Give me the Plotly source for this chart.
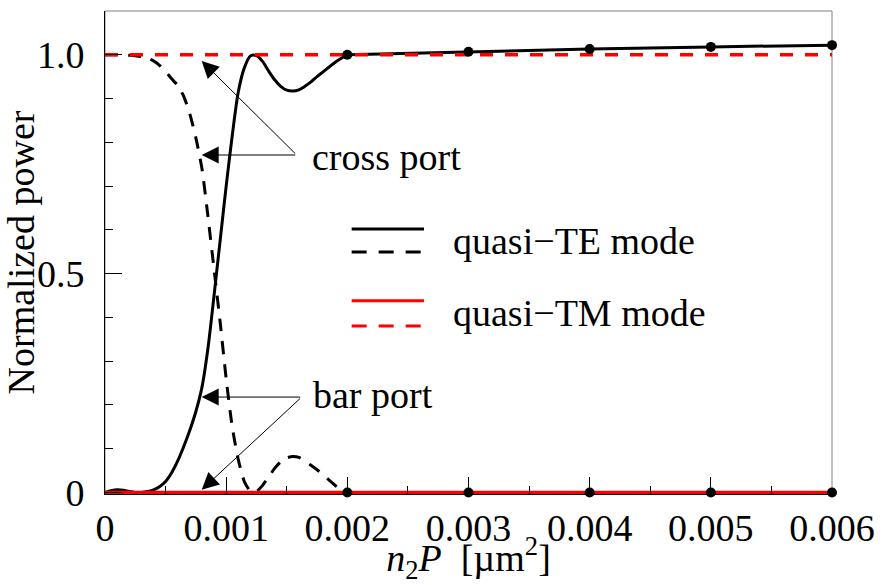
import plotly.graph_objects as go

# ---------------- data ----------------
x_fine = [0.0, 0.00005, 0.0001, 0.00015, 0.0002, 0.00025, 0.0003, 0.00035, 0.0004, 0.00045,
          0.0005, 0.00055, 0.0006, 0.00065, 0.0007, 0.00075, 0.0008, 0.00085, 0.0009, 0.00095,
          0.001, 0.00105, 0.0011, 0.00115, 0.0012, 0.00125, 0.0013, 0.00135, 0.0014, 0.00145,
          0.0015, 0.00155, 0.0016, 0.00165, 0.0017, 0.00175, 0.0018, 0.00185, 0.0019, 0.00195,
          0.002]
te_cross_fine = [0.0, 0.004, 0.006, 0.005, 0.002, 0.0, 0.0, 0.002, 0.006, 0.013,
                 0.025, 0.045, 0.072, 0.105, 0.142, 0.185, 0.24, 0.33, 0.45, 0.575,
                 0.70, 0.815, 0.915, 0.97, 0.997, 0.998, 0.985, 0.963, 0.943, 0.928,
                 0.919, 0.917, 0.92, 0.928, 0.938, 0.95, 0.961, 0.972, 0.983, 0.992,
                 1.0]
te_bar_fine = [1.0, 1.0, 1.0, 1.0, 0.999, 0.998, 0.996, 0.992, 0.986, 0.976,
               0.962, 0.945, 0.93, 0.905, 0.865, 0.81, 0.74, 0.63, 0.51, 0.39,
               0.26, 0.15, 0.075, 0.025, 0.003, 0.002, 0.016, 0.035, 0.055, 0.07,
               0.079, 0.082, 0.08, 0.072, 0.062, 0.052, 0.04, 0.028, 0.016, 0.007,
               0.0]

x_pts = [0.002, 0.003, 0.004, 0.005, 0.006]
te_cross_pts = [1.0, 1.007, 1.013, 1.018, 1.022]
te_bar_pts = [0.0, 0.0, 0.0, 0.0, 0.0]

x_tm = [0.0, 0.001, 0.002, 0.003, 0.004, 0.005, 0.006]
tm_cross = [0.0, 0.0, 0.0, 0.0, 0.0, 0.0, 0.0]
tm_bar = [1.0, 1.0, 1.0, 1.0, 1.0, 1.0, 1.0]

x_tickvals = [0, 0.001, 0.002, 0.003, 0.004, 0.005, 0.006]
x_ticktext = ["0", "0.001", "0.002", "0.003", "0.004", "0.005", "0.006"]
y_tickvals = [0, 0.5, 1.0]
y_ticktext = ["0", "0.5", "1.0"]

FONT = "Liberation Serif"
FS = 38

fig = go.Figure()

# TE cross port (solid black), TE bar port (dashed black)
fig.add_trace(go.Scatter(x=x_fine, y=te_cross_fine, mode="lines",
                         line=dict(color="black", width=3, shape="spline", smoothing=0.8),
                         showlegend=False))
fig.add_trace(go.Scatter(x=x_pts, y=te_cross_pts, mode="lines",
                         line=dict(color="black", width=3), showlegend=False))
fig.add_trace(go.Scatter(x=x_fine + x_pts[1:], y=te_bar_fine + te_bar_pts[1:], mode="lines",
                         line=dict(color="black", width=3, dash="13px,10px", shape="spline",
                                   smoothing=0.6), showlegend=False))
# TM cross port (solid red), TM bar port (dashed red)
fig.add_trace(go.Scatter(x=x_tm, y=tm_cross, mode="lines",
                         line=dict(color="red", width=3.5), showlegend=False))
fig.add_trace(go.Scatter(x=x_tm, y=tm_bar, mode="lines",
                         line=dict(color="red", width=3.5, dash="13px,12px"), showlegend=False))
# markers
fig.add_trace(go.Scatter(x=x_pts, y=te_cross_pts, mode="markers",
                         marker=dict(color="black", size=10), cliponaxis=False, showlegend=False))
fig.add_trace(go.Scatter(x=x_pts, y=te_bar_pts, mode="markers",
                         marker=dict(color="black", size=10), cliponaxis=False, showlegend=False))

# gray frame
fig.add_shape(type="rect", xref="paper", yref="paper", x0=0, x1=1, y0=0, y1=1,
              line=dict(color="#808080", width=1), layer="below")

# legend samples
leg_x0, leg_x1 = 0.3393, 0.4388
fig.add_shape(type="line", xref="paper", yref="paper", x0=leg_x0, x1=leg_x1, y0=0.5487, y1=0.5487,
              line=dict(color="black", width=3))
fig.add_shape(type="line", xref="paper", yref="paper", x0=leg_x0, x1=leg_x1, y0=0.501, y1=0.501,
              line=dict(color="black", width=3, dash="15px,12px"))
fig.add_shape(type="line", xref="paper", yref="paper", x0=leg_x0, x1=leg_x1, y0=0.4002, y1=0.4002,
              line=dict(color="red", width=3))
fig.add_shape(type="line", xref="paper", yref="paper", x0=leg_x0, x1=leg_x1, y0=0.3478, y1=0.3478,
              line=dict(color="red", width=3, dash="15px,12px"))

annos = [
    dict(text="quasi\u2212TE mode", x=0.476, y=0.524),
    dict(text="quasi\u2212TM mode", x=0.476, y=0.375),
    dict(text="cross port", x=0.282, y=0.698),
    dict(text="bar port", x=0.2834, y=0.205),
]
for a in annos:
    fig.add_annotation(text=a["text"], x=a["x"], y=a["y"], xref="paper", yref="paper",
                       xanchor="left", yanchor="middle", showarrow=False,
                       font=dict(family=FONT, size=FS, color="black"))

# arrows (tip, tail) in data coordinates
arrows = [
    ((0.000798, 0.986), (0.001582, 0.771)),
    ((0.000798, 0.771), (0.001582, 0.771)),
    ((0.000798, 0.218), (0.001623, 0.218)),
    ((0.000798, 0.006), (0.001623, 0.218)),
]
for (tx, ty), (sx, sy) in arrows:
    fig.add_annotation(text="", x=tx, y=ty, ax=sx, ay=sy, xref="x", yref="y", axref="x", ayref="y",
                       showarrow=True, arrowhead=2, arrowsize=3.4, arrowwidth=1,
                       arrowcolor="black", standoff=0, startstandoff=0)

fig.update_layout(
    width=883, height=585,
    margin=dict(l=105, r=51, t=11, b=91),
    paper_bgcolor="white", plot_bgcolor="white",
    font=dict(family=FONT, size=FS, color="black"),
    showlegend=False,
)
fig.update_xaxes(
    range=[0, 0.006], tickvals=x_tickvals, ticktext=x_ticktext,
    ticks="inside", ticklen=17, tickwidth=1, tickcolor="black",
    minor=dict(dtick=0.0005, ticks="inside", ticklen=8, tickcolor="black", tickwidth=1),
    showline=True, linecolor="black", linewidth=1, mirror=False,
    showgrid=False, zeroline=False, automargin=False,
    tickfont=dict(family=FONT, size=FS),
    title=dict(text="<i>n</i><sub>2</sub><i>P</i>  [\u00b5m<sup>2</sup>]",
               font=dict(family=FONT, size=FS), standoff=2),
)
fig.update_yaxes(
    range=[-0.0035, 1.1], tickvals=y_tickvals, ticktext=y_ticktext,
    ticks="inside", ticklen=17, tickwidth=1, tickcolor="black",
    minor=dict(tickvals=[0.1, 0.2, 0.3, 0.4, 0.6, 0.7, 0.8, 0.9], ticks="inside", ticklen=8,
               tickcolor="black", tickwidth=1),
    showline=True, linecolor="black", linewidth=1, mirror=False,
    showgrid=False, zeroline=False, automargin=False,
    tickfont=dict(family=FONT, size=FS),
    ticklabelstandoff=12,
    title=dict(text="Normalized power", font=dict(family=FONT, size=FS), standoff=8),
)

fig.write_html("out.html")
